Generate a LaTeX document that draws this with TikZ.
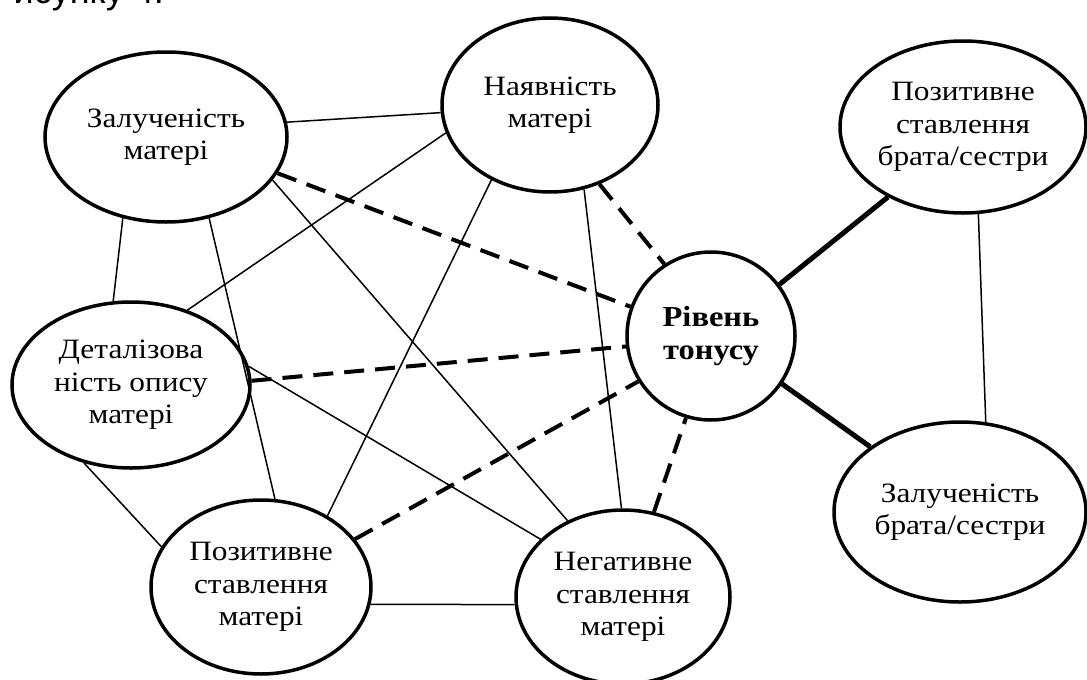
\documentclass[tikz,border=0pt]{standalone}
\usepackage{fontspec}
\setmainfont{Liberation Serif}[FakeStretch=1.12]
\newfontfamily\sansf{Liberation Sans}
\usetikzlibrary{shapes.geometric}
\begin{document}
\begin{tikzpicture}[x=1pt,y=-1pt,
  ell/.style={draw, ellipse, line width=3.5pt, inner sep=0pt, fill=white, align=center,
    font=\fontsize{28}{32.5}\selectfont},
  slim/.style={line width=1.5pt},
  dsh/.style={line width=4pt, dash pattern=on 20pt off 11pt},
  thk/.style={line width=5pt}]
\useasboundingbox (0,0) rectangle (1087,680);
\node[anchor=base east, inner sep=0pt, font=\sansf\fontsize{36}{40}\selectfont] (title) at (164,3) {Рисунку 4.};

\node[ell, minimum width=242pt, minimum height=170pt] (A) at (166,137) {Залученість\\матері};
\node[ell, minimum width=216pt, minimum height=174pt] (B) at (550,105) {Наявність\\матері};
\node[ell, minimum width=246pt, minimum height=172pt] (C) at (963,127) {Позитивне\\ставлення\\брата/сестри};
\node[ell, circle, minimum size=168pt, font=\bfseries\fontsize{29}{32.5}\selectfont] (R) at (711,336) {Рівень\\тонусу};
\node[ell, minimum width=252pt, minimum height=180pt] (D) at (960,512) {Залученість\\брата/сестри};
\node[ell, minimum width=238pt, minimum height=166pt] (E) at (131,385) {Деталізова\\ність опису\\матері};
\node[ell, minimum width=220pt, minimum height=174pt] (F) at (261,587) {Позитивне\\ставлення\\матері};
\node[ell, minimum width=214pt, minimum height=174pt] (G) at (623,597) {Негативне\\ставлення\\матері};

% thin solid
\draw[slim] (A.7.5) -- (B.184.2);
\draw[slim] (A.242.3) -- (E.102.9);
\draw[slim] (A.298.9) -- (F.81);
\draw[slim] (A.-22.8) -- (G.126.7);
\draw[slim] (B.195.7) -- (E.53.5);
\draw[slim] (B.232.3) -- (F.47.8);
\draw[slim] (B.292.1) -- (G.91.8);
\draw[slim] (E.9.6) -- (G.145);
\draw[slim] (E.239.5) -- (F.158.9);
\draw[slim] (F.-9.3) -- (G.184.3);
\draw[slim] (C.280.6) -- (D.74.3);

% dashed
\draw[dsh] (A.-18.4) -- (R.160.3);
\draw[dsh] (B.302.7) -- (R.123.3);
\draw[dsh] (E.2.9) -- (R.187.5);
\draw[dsh] (F.27.7) -- (R.212.3);
\draw[dsh] (G.70.6) -- (R.253);

% thick
\draw[thk] (R.37.3) -- (C.223.4);
\draw[thk] (R.-34.4) -- (D.144);
\end{tikzpicture}
\end{document}
